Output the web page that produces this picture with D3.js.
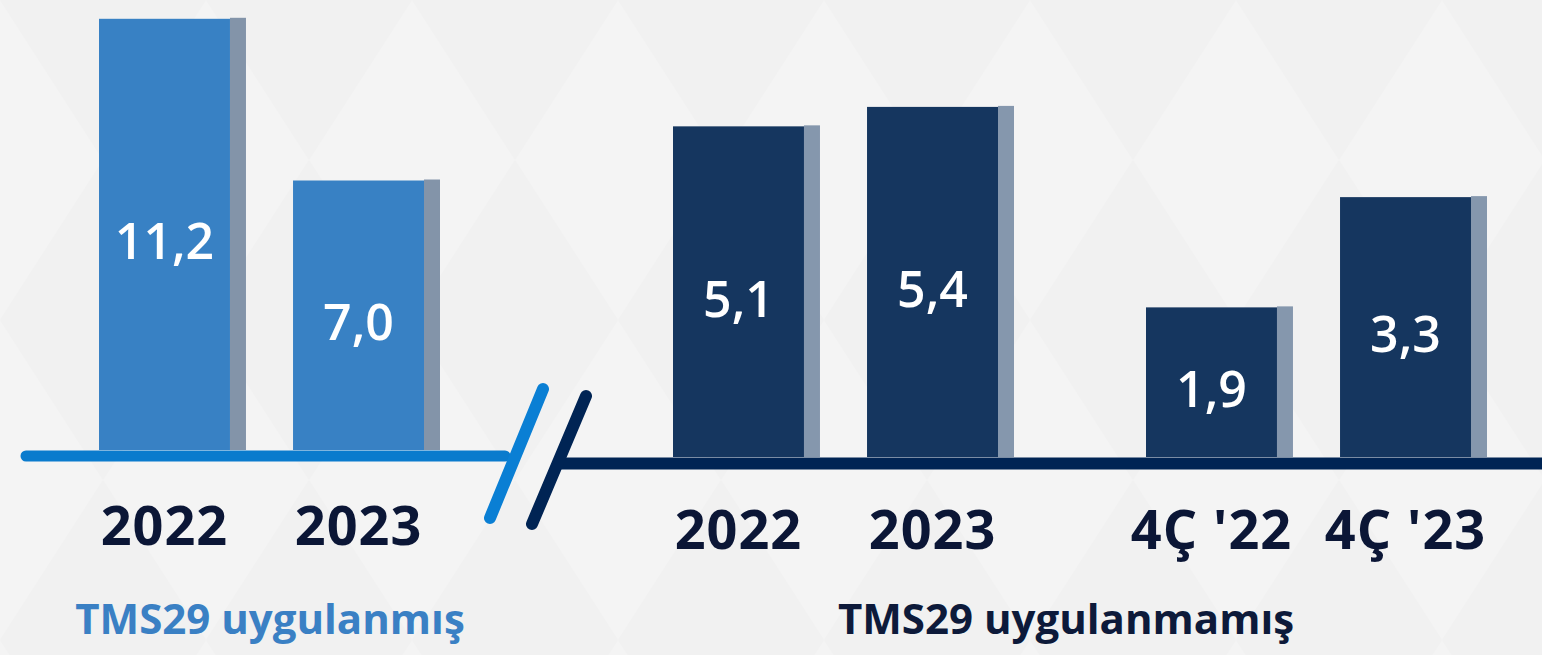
<!DOCTYPE html>
<head>
    <meta charset="utf-8">
    <script src="https://d3js.org/d3.v7.min.js"></script>
    <style>
        body {
            margin: 0;
            background: #f2f2f2;
            font-family: "Open Sans", sans-serif;
        }
        .value {
            fill: #fff;
            font-size: 50px;
            font-weight: 600;
        }
        .axis text {
            font-size: 54px;
            font-weight: 700;
            letter-spacing: 1px;
            fill: #0b1636;
            font-family: "Open Sans", sans-serif;
        }
        .axis path {
            display: none;
        }
        .title {
            font-size: 42px;
            font-weight: 700;
        }
    </style>
</head>
<body>
<script>

    // values
    var leftCats = ["2022", "2023"],
        leftVals = [11.2, 7.0];

    var yearCats = ["2022", "2023"],
        yearVals = [5.1, 5.4];

    var qCats = ["4Ç '22", "4Ç '23"],
        qVals = [1.9, 3.3];

    var leftTitle = "TMS29 uygulanmış",
        rightTitle = "TMS29 uygulanmamış";

    var width = 1542,
        height = 655,
        shadowW = 16;

    var svg = d3.select("body").append("svg")
        .attr("width", width)
        .attr("height", height);

    // faint background texture
    var defs = svg.append("defs");
    var pat = defs.append("pattern")
        .attr("id", "bg")
        .attr("patternUnits", "userSpaceOnUse")
        .attr("width", 206)
        .attr("height", 320);
    pat.append("rect").attr("width", 206).attr("height", 320).attr("fill", "#f1f1f1");
    pat.append("path")
        .attr("d", "M0,0 L103,160 L0,320 Z M206,0 L103,160 L206,320 Z")
        .attr("fill", "#f4f4f4");

    svg.append("rect")
        .attr("width", width)
        .attr("height", height)
        .attr("fill", "url(#bg)");

    var groups = [
        {cats: leftCats, vals: leftVals, range: [99, 424], y: d3.scaleLinear().domain([0, 12]).range([450, -12]),
            fill: "#3881c4", shadow: "#8394a9", labelY: 95},
        {cats: yearCats, vals: yearVals, range: [673, 998], y: d3.scaleLinear().domain([0, 6]).range([457, 68]),
            fill: "#15365f", shadow: "#8597ad", labelY: 92},
        {cats: qCats, vals: qVals, range: [1146, 1471], y: d3.scaleLinear().domain([0, 4]).range([457, 142]),
            fill: "#15365f", shadow: "#8597ad", labelY: 92}
    ];

    groups.forEach(function(g) {
        var x = d3.scaleBand()
            .domain(g.cats)
            .range(g.range)
            .paddingInner(0.325)
            .paddingOuter(0);

        var data = g.cats.map(function(c, i) { return {cat: c, val: g.vals[i]}; });
        var base = g.y(0);

        var bar = svg.append("g").selectAll("g")
            .data(data)
            .enter().append("g");

        bar.append("rect")
            .attr("x", function(d) { return x(d.cat) + x.bandwidth(); })
            .attr("y", function(d) { return g.y(d.val) - 1; })
            .attr("width", shadowW)
            .attr("height", function(d) { return base - g.y(d.val) + 1; })
            .attr("fill", g.shadow);

        bar.append("rect")
            .attr("x", function(d) { return x(d.cat); })
            .attr("y", function(d) { return g.y(d.val); })
            .attr("width", x.bandwidth())
            .attr("height", function(d) { return base - g.y(d.val); })
            .attr("fill", g.fill);

        bar.append("text")
            .attr("class", "value")
            .attr("text-anchor", "middle")
            .attr("x", function(d) { return x(d.cat) + x.bandwidth() / 2; })
            .attr("y", function(d) { return (g.y(d.val) + base) / 2 + 25; })
            .text(function(d) { return d3.format(".1f")(d.val).replace(".", ","); });

        var ax = svg.append("g")
            .attr("class", "axis")
            .attr("transform", "translate(0," + base + ")")
            .call(d3.axisBottom(x).tickSize(0));
        ax.selectAll("text")
            .attr("dy", null)
            .attr("y", g.labelY);
    });

    // base lines with the break
    svg.append("line")
        .attr("x1", 26).attr("x2", 505)
        .attr("y1", 456).attr("y2", 456)
        .attr("stroke", "#0a7bcd")
        .attr("stroke-width", 11)
        .attr("stroke-linecap", "round");

    svg.append("line")
        .attr("x1", 560).attr("x2", width)
        .attr("y1", 463.5).attr("y2", 463.5)
        .attr("stroke", "#002454")
        .attr("stroke-width", 12);

    svg.append("line")
        .attr("x1", 543).attr("y1", 389)
        .attr("x2", 490).attr("y2", 518)
        .attr("stroke", "#0a7fd4")
        .attr("stroke-width", 12)
        .attr("stroke-linecap", "round");

    svg.append("line")
        .attr("x1", 586).attr("y1", 396)
        .attr("x2", 532).attr("y2", 524)
        .attr("stroke", "#002454")
        .attr("stroke-width", 12)
        .attr("stroke-linecap", "round");

    svg.append("text")
        .attr("class", "title")
        .attr("x", 270).attr("y", 634)
        .attr("text-anchor", "middle")
        .attr("fill", "#3a80c4")
        .text(leftTitle);

    svg.append("text")
        .attr("class", "title")
        .attr("x", 1066).attr("y", 634)
        .attr("text-anchor", "middle")
        .attr("fill", "#0d1a3a")
        .text(rightTitle);
</script>
</body>
